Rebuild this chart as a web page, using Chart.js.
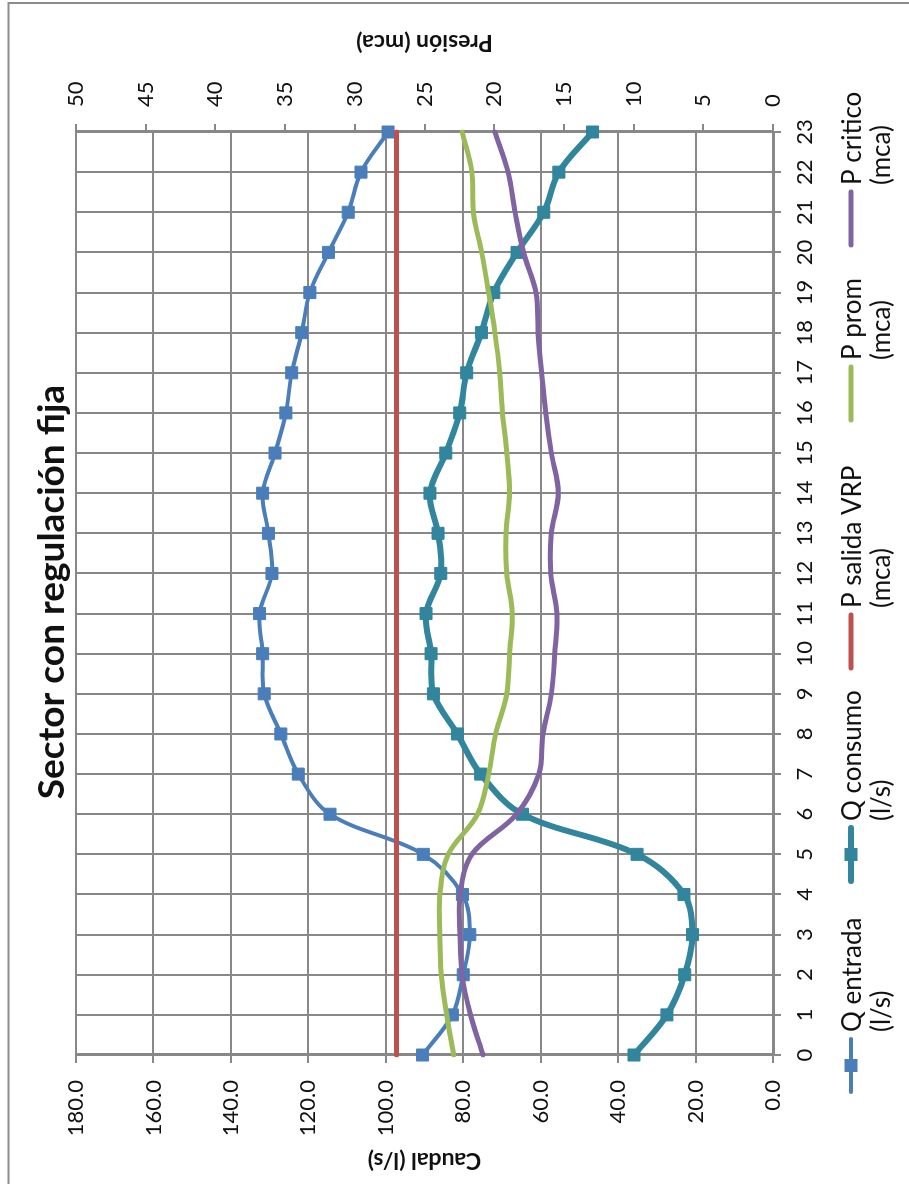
<!DOCTYPE html>
<html>
<head>
<meta charset="utf-8">
<title>Sector con regulación fija</title>
<script src="https://cdn.jsdelivr.net/npm/chart.js@4.4.1/dist/chart.umd.min.js"></script>
<style>
  html, body { margin: 0; padding: 0; background: #fff; width: 909px; height: 1184px; overflow: hidden; }
  /* the chart is laid out landscape and turned a quarter turn counter-clockwise */
  #wrap { position: absolute; left: 0; top: 0; width: 1184px; height: 909px;
          transform-origin: 0 0; transform: translateY(1184px) rotate(-90deg); }
  canvas { display: block; }
</style>
</head>
<body>
<div id="wrap"><canvas id="chart" width="1184" height="909"></canvas></div>
<script>
// Hour of day (category axis)
const hours = ['0','1','2','3','4','5','6','7','8','9','10','11','12','13','14','15','16','17','18','19','20','21','22','23'];

// Flows, l/s (left axis)
const qEntrada = [90.5, 82.8, 80.0, 78.3, 80.2, 90.3, 114.4, 122.6, 127.1, 131.4, 131.8, 132.6,
                  129.4, 130.3, 131.8, 128.6, 125.8, 124.3, 121.7, 119.6, 114.8, 109.7, 106.4, 99.4];
const qConsumo = [35.9, 27.4, 22.8, 20.8, 23.0, 35.1, 64.7, 75.5, 81.5, 87.7, 88.3, 89.6,
                  85.8, 86.5, 88.6, 84.5, 80.9, 79.1, 75.3, 72.1, 66.1, 59.2, 55.3, 46.6];

// Pressures, mca (right axis)
const pSalidaVRP = [27.0, 27.0, 27.0, 27.0, 27.0, 27.0, 27.0, 27.0, 27.0, 27.0, 27.0, 27.0,
                    27.0, 27.0, 27.0, 27.0, 27.0, 27.0, 27.0, 27.0, 27.0, 27.0, 27.0, 27.0];
const pProm = [22.9, 23.4, 23.8, 23.9, 23.9, 23.3, 21.2, 20.4, 19.9, 19.1, 18.9, 18.7,
               19.1, 19.15, 18.9, 19.1, 19.4, 19.6, 19.95, 20.4, 20.9, 21.5, 21.6, 22.3];
const pCritico = [20.8, 21.7, 22.3, 22.45, 22.45, 21.6, 18.4, 16.8, 16.5, 15.9, 15.65, 15.5,
                  15.95, 15.9, 15.4, 15.9, 16.3, 16.6, 16.85, 17.0, 17.9, 18.5, 19.0, 19.95];

// Series names and axis settings
const seriesNames = ['Q entrada (l/s)', 'Q consumo (l/s)', 'P salida VRP (mca)', 'P prom (mca)', 'P critico (mca)'];
const chartTitle = 'Sector con regulación fija';
const caudalTitle = 'Caudal (l/s)';
const presionTitle = 'Presión (mca)';
const caudalMax = 180, caudalStep = 20;
const presionMax = 50, presionStep = 5;

const FONT = 'Lato, "Open Sans", "DejaVu Sans", sans-serif';
const GRID = '#888888';
const INK = '#111111';

// where each legend entry starts along the bottom strip
const legendStarts = [92, 303, 516, 764, 939];

const decor = {
  id: 'decor',
  beforeDraw(chart) {
    const c = chart.ctx;
    c.save();
    c.fillStyle = '#ffffff';
    c.fillRect(0, 0, chart.width, chart.height);
    c.restore();
  },
  afterDraw(chart) {
    const c = chart.ctx;
    const a = chart.chartArea;
    const midY = (a.top + a.bottom) / 2;
    c.save();

    // outer frame
    c.strokeStyle = '#8c8c8c';
    c.lineWidth = 2;
    c.beginPath();
    c.moveTo(0, 8.5); c.lineTo(1181, 8.5); c.lineTo(1181, chart.height);
    c.stroke();

    // chart title
    c.fillStyle = INK;
    c.textAlign = 'center';
    c.textBaseline = 'alphabetic';
    c.font = 'bold 37px ' + FONT;
    c.fillText(chartTitle, chart.width / 2, 64);

    // axis titles, both reading upward
    c.font = 'bold 23px ' + FONT;
    c.textBaseline = 'middle';
    [[24, caudalTitle], [1142, presionTitle]].forEach(([x, txt]) => {
      c.save();
      c.translate(x, midY);
      c.rotate(-Math.PI / 2);
      c.fillText(txt, 0, 0);
      c.restore();
    });

    // legend
    c.textAlign = 'left';
    c.textBaseline = 'alphabetic';
    c.font = '26px ' + FONT;
    chart.data.datasets.forEach((ds, i) => {
      const x0 = legendStarts[i];
      const ly = 851;
      c.strokeStyle = ds.borderColor;
      c.lineWidth = ds.borderWidth;
      c.lineCap = 'round';
      c.beginPath();
      c.moveTo(x0, ly); c.lineTo(x0 + 53, ly);
      c.stroke();
      if (ds.pointRadius > 0) {
        const s = 13;
        c.fillStyle = ds.borderColor;
        c.fillRect(x0 + 26.5 - s / 2, ly - s / 2, s, s);
      }
      const k = ds.label.indexOf(' (');
      const line1 = ds.label.slice(0, k);
      const line2 = ds.label.slice(k + 1);
      c.fillStyle = INK;
      c.fillText(line1, x0 + 60, 861);
      c.fillText(line2, x0 + 60, 890);
    });
    c.restore();
  }
};

const lineStyle = { tension: 0.35, borderCapStyle: 'round', borderJoinStyle: 'round', fill: false };

new Chart(document.getElementById('chart'), {
  type: 'line',
  data: {
    labels: hours,
    datasets: [
      Object.assign({ label: seriesNames[0], data: qEntrada, yAxisID: 'y',
        borderColor: '#4A7EBB', backgroundColor: '#4A7EBB', borderWidth: 4,
        pointStyle: 'rect', pointRadius: 8.5, pointBorderWidth: 1, pointBorderColor: '#4A7EBB', order: 5 }, lineStyle),
      Object.assign({ label: seriesNames[1], data: qConsumo, yAxisID: 'y',
        borderColor: '#31859C', backgroundColor: '#31859C', borderWidth: 6,
        pointStyle: 'rect', pointRadius: 8.5, pointBorderWidth: 1, pointBorderColor: '#31859C', order: 4 }, lineStyle),
      Object.assign({ label: seriesNames[2], data: pSalidaVRP, yAxisID: 'y1',
        borderColor: '#C0504D', backgroundColor: '#C0504D', borderWidth: 5,
        pointRadius: 0, order: 3 }, lineStyle),
      Object.assign({ label: seriesNames[3], data: pProm, yAxisID: 'y1',
        borderColor: '#9BBB59', backgroundColor: '#9BBB59', borderWidth: 5,
        pointRadius: 0, order: 2 }, lineStyle),
      Object.assign({ label: seriesNames[4], data: pCritico, yAxisID: 'y1',
        borderColor: '#8064A2', backgroundColor: '#8064A2', borderWidth: 5,
        pointRadius: 0, order: 1 }, lineStyle)
    ]
  },
  options: {
    responsive: false,
    animation: false,
    devicePixelRatio: 1,
    layout: { padding: { top: 76, left: 0, right: 0, bottom: 0 } },
    plugins: { legend: { display: false }, title: { display: false }, tooltip: { enabled: false } },
    scales: {
      x: {
        type: 'category',
        offset: false,
        grid: { color: GRID, lineWidth: 2, tickLength: 8 },
        border: { color: GRID, width: 3 },
        ticks: { font: { family: FONT, size: 22 }, color: INK, padding: 11, maxRotation: 0, autoSkip: false },
        afterFit(s) { s.height = 909 - 773; }
      },
      y: {
        position: 'left',
        min: 0, max: caudalMax,
        grid: { color: GRID, lineWidth: 2, tickLength: 8 },
        border: { color: GRID, width: 3 },
        ticks: { stepSize: caudalStep, callback: v => Number(v).toFixed(1),
                 font: { family: FONT, size: 22 }, color: INK, padding: 17 },
        afterFit(s) { s.width = 129; }
      },
      y1: {
        position: 'right',
        min: 0, max: presionMax,
        grid: { drawOnChartArea: false, color: GRID, lineWidth: 2, tickLength: 8 },
        border: { color: GRID, width: 3 },
        ticks: { stepSize: presionStep, font: { family: FONT, size: 22 }, color: INK, padding: 17 },
        afterFit(s) { s.width = 132; }
      }
    }
  },
  plugins: [decor]
});
</script>
</body>
</html>
